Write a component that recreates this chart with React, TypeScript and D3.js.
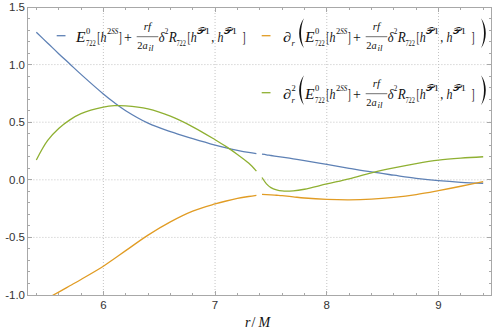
import React from 'react';
import * as d3 from 'd3';

const W = 493;
const H = 336;

// sample radii, split where the curves break near r = 7.4
const rLeft = [5.4, 5.5, 5.6, 5.7, 5.8, 6.0, 6.1, 6.2, 6.4, 6.6, 6.8, 7.0, 7.1, 7.2, 7.3, 7.37];
const rRight = [7.42, 7.46, 7.5, 7.55, 7.6, 7.7, 7.8, 8.0, 8.2, 8.4, 8.6, 8.8, 9.0, 9.2, 9.4];

// E + rf/(2a) d^2 R
const energyLeft = [1.28, 1.188, 1.095, 1.005, 0.915, 0.745, 0.668, 0.6, 0.492, 0.418, 0.358, 0.302, 0.277, 0.256, 0.238, 0.228];
const energyRight = [0.222, 0.217, 0.211, 0.204, 0.197, 0.182, 0.166, 0.133, 0.1, 0.068, 0.04, 0.013, -0.008, -0.022, -0.03];

// d/dr
const firstLeft = [-1.08, -1.028, -0.975, -0.92, -0.865, -0.75, -0.683, -0.615, -0.48, -0.365, -0.272, -0.21, -0.184, -0.162, -0.145, -0.135];
const firstRight = [-0.127, -0.128, -0.13, -0.134, -0.138, -0.148, -0.158, -0.17, -0.174, -0.168, -0.152, -0.128, -0.094, -0.056, -0.015];

// d^2/dr^2
const secondLeft = [0.172, 0.34, 0.445, 0.52, 0.574, 0.63, 0.643, 0.642, 0.615, 0.552, 0.46, 0.348, 0.288, 0.22, 0.145, 0.075];
const secondRight = [0.02, -0.035, -0.068, -0.088, -0.097, -0.096, -0.082, -0.036, 0.008, 0.06, 0.103, 0.14, 0.17, 0.188, 0.2];

const xTicks = [6, 7, 8, 9];
const yTicks = [-1.0, -0.5, 0.0, 0.5, 1.0, 1.5];
const xGrid = [6, 7, 8, 9];
const yGrid = [-0.5, 0.0, 0.5, 1.0];

const BLUE = '#5e81b5';
const ORANGE = '#e19c24';
const GREEN = '#8fb032';
const FRAME = '#a8a8a8';
const MF = '"Liberation Serif", "DejaVu Serif", serif';
const SF = '"Liberation Sans", Arial, sans-serif';

const x = d3.scaleLinear().domain([5.32, 9.47]).range([27.4, 491]);
const y = d3.scaleLinear().domain([-1, 1.5]).range([295, 7]);

const line = d3
  .line<[number, number]>()
  .x((d) => x(d[0]))
  .y((d) => y(d[1]))
  .curve(d3.curveCatmullRom.alpha(0.5));

const zip = (rs: number[], vs: number[]) => rs.map((r, i) => [r, vs[i]] as [number, number]);

// pieces of the legend formula, offsets from the left edge of E
const pieces = [
  { t: 'E', x: 0, dy: 0, fs: 14, it: true, w: 9.5 },
  { t: '0', x: 10, dy: -7.3, fs: 8.5 },
  { t: '722', x: 10, dy: 4, fs: 8.5, w: 9.8 },
  { t: '[', x: 21.3, dy: 0, fs: 14, w: 3 },
  { t: 'h', x: 24.6, dy: 0, fs: 14, it: true, w: 6 },
  { t: '2', x: 30.9, dy: -7.3, fs: 8.5 },
  { t: 'SS', x: 35.3, dy: -7.3, fs: 8.5, it: true, w: 7 },
  { t: ']', x: 42.7, dy: 0, fs: 14, w: 3 },
  { t: '+', x: 48, dy: 0, fs: 14 },
  { t: 'rf', x: 71.5, dy: -11.6, fs: 11, it: true, mid: true },
  { t: '2', x: 61.2, dy: 7, fs: 10.5 },
  { t: 'a', x: 66.6, dy: 7, fs: 10.5, it: true, w: 5.2 },
  { t: 'il', x: 72.4, dy: 9, fs: 7.5, it: true, w: 5 },
  { t: 'δ', x: 82.7, dy: 0, fs: 14, it: true, w: 5.8 },
  { t: '2', x: 88.8, dy: -7.3, fs: 8.5, w: 3.6 },
  { t: 'R', x: 92.8, dy: 0, fs: 14, it: true, w: 8 },
  { t: '722', x: 100.4, dy: 4, fs: 8.5, w: 9.6 },
  { t: '[', x: 111.4, dy: 0, fs: 14, w: 3 },
  { t: 'h', x: 114.8, dy: 0, fs: 14, it: true, w: 6 },
  { t: '𝒫1', x: 121.4, dy: -7.3, fs: 8.5, w: 12.6 },
  { t: ',', x: 135.2, dy: 0, fs: 14, w: 3 },
  { t: 'h', x: 141.5, dy: 0, fs: 14, it: true, w: 6 },
  { t: '𝒫1', x: 148.3, dy: -7.3, fs: 8.5, w: 12.6 },
  { t: ']', x: 166.5, dy: 0, fs: 14, w: 3 },
];

const Expr = ({ x0, b }: { x0: number; b: number }) => (
  <g fill="#111" fontFamily={MF}>
    {pieces.map((p: any, i) => (
      <text
        key={i}
        x={x0 + p.x}
        y={b + p.dy}
        fontSize={p.fs}
        fontStyle={p.it ? 'italic' : 'normal'}
        textAnchor={p.mid ? 'middle' : 'start'}
        textLength={p.w}
        lengthAdjust={p.w ? 'spacingAndGlyphs' : undefined}
      >
        {p.t}
      </text>
    ))}
    <line x1={x0 + 60.7} x2={x0 + 82.3} y1={b - 5} y2={b - 5} stroke="#111" strokeWidth={0.6} />
  </g>
);

const paren = (x0: number, top: number, bot: number, right: boolean) => {
  const s = right ? -1 : 1;
  const o = right ? x0 + 7.5 : x0;
  const a = o + s * 7;
  return `M${a},${top} C${o + s * 0.6},${top + 8} ${o + s * 0.6},${bot - 8} ${a},${bot} C${o + s * 3},${bot - 8} ${o + s * 3},${top + 8} ${a},${top} Z`;
};

const Deriv = ({ b, order, x0 }: { b: number; order: number; x0: number }) => (
  <g fill="#111" fontFamily={MF}>
    <text x={283} y={b} fontSize={14} fontStyle="italic" textLength={8} lengthAdjust="spacingAndGlyphs">∂</text>
    <text x={291.5} y={b + 4} fontSize={8.5} fontStyle="italic">r</text>
    {order === 2 && <text x={291.5} y={b - 7.3} fontSize={8.5}>2</text>}
    <path d={paren(297, b - 23.4, b + 6.6, false)} />
    <path d={paren(480.5, b - 23.4, b + 6.6, true)} />
    <Expr x0={x0} b={b} />
  </g>
);

export default function App() {
  const [x0, x1] = x.range();
  const [y0, y1] = y.range();
  const minorX = d3.range(5.4, 9.41, 0.2).filter((v) => !xTicks.some((t) => Math.abs(t - v) < 1e-6));
  const minorY = d3.range(-1, 1.501, 0.1).filter((v) => !yTicks.some((t) => Math.abs(t - v) < 1e-6));

  const series = [
    { c: BLUE, segs: [zip(rLeft, energyLeft), zip(rRight, energyRight)] },
    { c: ORANGE, segs: [zip(rLeft, firstLeft), zip(rRight, firstRight)] },
    { c: GREEN, segs: [zip(rLeft, secondLeft), zip(rRight, secondRight)] },
  ];

  const b1 = 41.7;
  const b2 = 98.7;

  return (
    <svg width={W} height={H} style={{ position: 'absolute', left: 0, top: 0, background: '#fff' }}>
      <defs>
        <clipPath id="plot">
          <rect x={x0} y={y1} width={x1 - x0} height={y0 - y1} />
        </clipPath>
      </defs>

      {/* grid */}
      <g stroke="#c4c4c4" strokeWidth={1} strokeDasharray="1,2">
        {xGrid.map((t) => (
          <line key={'gx' + t} x1={x(t)} x2={x(t)} y1={y1} y2={y0} />
        ))}
        {yGrid.map((t) => (
          <line key={'gy' + t} x1={x0} x2={x1} y1={y(t)} y2={y(t)} />
        ))}
      </g>

      {/* curves */}
      <g clipPath="url(#plot)" fill="none" strokeWidth={1.3}>
        {series.map((s, i) =>
          s.segs.map((seg, j) => <path key={i + '-' + j} d={line(seg) || ''} stroke={s.c} />)
        )}
      </g>

      {/* frame + ticks */}
      <g stroke={FRAME} strokeWidth={1} shapeRendering="crispEdges">
        <rect x={x0} y={y1} width={x1 - x0} height={y0 - y1} fill="none" />
        {xTicks.map((t) => (
          <g key={'tx' + t}>
            <line x1={x(t)} x2={x(t)} y1={y0} y2={y0 - 4.5} />
            <line x1={x(t)} x2={x(t)} y1={y1} y2={y1 + 4.5} />
          </g>
        ))}
        {minorX.map((t) => (
          <g key={'mx' + t}>
            <line x1={x(t)} x2={x(t)} y1={y0} y2={y0 - 2.5} />
            <line x1={x(t)} x2={x(t)} y1={y1} y2={y1 + 2.5} />
          </g>
        ))}
        {yTicks.map((t) => (
          <g key={'ty' + t}>
            <line x1={x0} x2={x0 + 4.5} y1={y(t)} y2={y(t)} />
            <line x1={x1} x2={x1 - 4.5} y1={y(t)} y2={y(t)} />
          </g>
        ))}
        {minorY.map((t) => (
          <g key={'my' + t}>
            <line x1={x0} x2={x0 + 2.5} y1={y(t)} y2={y(t)} />
            <line x1={x1} x2={x1 - 2.5} y1={y(t)} y2={y(t)} />
          </g>
        ))}
      </g>

      {/* tick labels */}
      <g fill="#333" fontFamily={SF} fontSize={11.5}>
        {xTicks.map((t) => (
          <text key={'lx' + t} x={x(t)} y={308.5} textAnchor="middle">
            {t}
          </text>
        ))}
        {yTicks.map((t) => (
          <text key={'ly' + t} x={25} y={y(t) + 4} textAnchor="end">
            {t.toFixed(1)}
          </text>
        ))}
      </g>

      {/* axis label */}
      <g fill="#111" fontFamily={MF} fontSize={14}>
        <text x={245} y={327} fontStyle="italic">r</text>
        <text x={251.5} y={327}>/</text>
        <text x={258.5} y={327} fontStyle="italic">M</text>
      </g>

      {/* legend */}
      <line x1={56.7} x2={65.5} y1={b1 - 6} y2={b1 - 6} stroke={BLUE} strokeWidth={1.3} />
      <Expr x0={76} b={b1} />
      <line x1={261.7} x2={270.5} y1={b1 - 6} y2={b1 - 6} stroke={ORANGE} strokeWidth={1.3} />
      <Deriv b={b1} order={1} x0={305} />
      <line x1={261.7} x2={270.5} y1={b2 - 6} y2={b2 - 6} stroke={GREEN} strokeWidth={1.3} />
      <Deriv b={b2} order={2} x0={305} />
    </svg>
  );
}
